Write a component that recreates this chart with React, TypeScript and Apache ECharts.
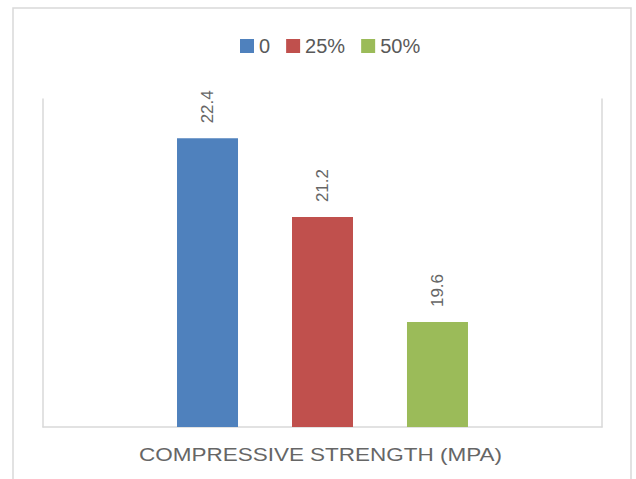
import React, { useEffect, useRef } from "react";
import * as echarts from "echarts";

const categories = ["Compressive Strength (MPa)"];
const seriesNames = ["0", "25%", "50%"];
const seriesValues = [[22.4], [21.2], [19.6]];
const seriesColors = ["#4f81bd", "#c0504d", "#9bbb59"];
const axisTitle = "COMPRESSIVE STRENGTH (MPA)";

export default function App() {
  const ref = useRef<HTMLDivElement>(null);
  useEffect(() => {
    if (!ref.current) return;
    const chart = echarts.init(ref.current, null, { renderer: "svg" });
    const font = "Liberation Sans, Arial, sans-serif";
    chart.setOption({
      animation: false,
      backgroundColor: "#ffffff",
      textStyle: { fontFamily: font },
      graphic: [
        {
          type: "rect",
          shape: { x: 13, y: 8, width: 618, height: 490 },
          style: { fill: "none", stroke: "#d9d9d9", lineWidth: 1.5 },
          silent: true,
        },
        {
          type: "text",
          x: 320.5,
          y: 455,
          scaleX: 1.25,
          style: {
            text: axisTitle,
            fill: "#666666",
            font: "18px " + font,
            align: "center",
            verticalAlign: "middle",
          },
        },
      ],
      legend: {
        data: seriesNames,
        left: 235,
        top: 31,
        itemWidth: 14,
        itemHeight: 14,
        itemGap: 16,
        icon: "rect",
        textStyle: { color: "#595959", fontSize: 20, fontFamily: font },
      },
      grid: { left: 43, right: 34, top: 99, bottom: 52 },
      xAxis: {
        type: "category",
        data: categories,
        axisLine: { lineStyle: { color: "#d9d9d9", width: 1.5 } },
        axisTick: { show: false },
        axisLabel: { show: false },
      },
      yAxis: [
        {
          type: "value",
          min: 18,
          max: 23,
          position: "left",
          axisLine: { show: true, lineStyle: { color: "#d9d9d9", width: 1.5 } },
          axisTick: { show: false },
          axisLabel: { show: false },
          splitLine: { show: false },
        },
        {
          type: "value",
          min: 18,
          max: 23,
          position: "right",
          axisLine: { show: true, lineStyle: { color: "#d9d9d9", width: 1.5 } },
          axisTick: { show: false },
          axisLabel: { show: false },
          splitLine: { show: false },
        },
      ],
      series: seriesNames.map((name, i) => ({
        name,
        type: "bar",
        data: seriesValues[i],
        barWidth: 61,
        barGap: "88.5%",
        itemStyle: { color: seriesColors[i] },
        label: {
          show: true,
          position: "top",
          rotate: 90,
          align: "left",
          verticalAlign: "middle",
          distance: 15,
          color: "#666666",
          fontSize: 17,
          fontFamily: font,
        },
      })),
    });
    return () => chart.dispose();
  }, []);
  return (
    <div
      ref={ref}
      style={{ position: "absolute", left: 0, top: 0, width: 636, height: 479 }}
    />
  );
}
